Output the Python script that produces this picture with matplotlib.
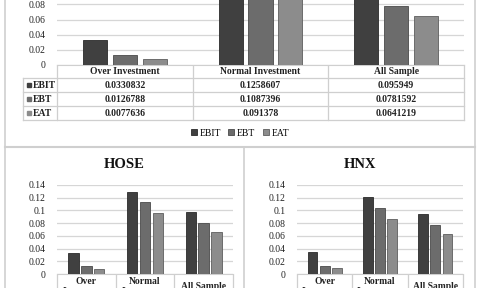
import numpy as np
import matplotlib
matplotlib.use("Agg")
import matplotlib.pyplot as plt
import matplotlib.transforms as mtransforms

plt.rcParams['font.family'] = ['Liberation Serif', 'DejaVu Serif']

series = ["EBIT", "EBT", "EAT"]
groups = ["Over Investment", "Normal Investment", "All Sample"]
short_groups = ["Over\nInvestment", "Normal\nInvestment", "All Sample"]

# all sample (values from the data table)
all_ebit = [0.0330832, 0.1258607, 0.095949]
all_ebt = [0.0126788, 0.1087396, 0.0781592]
all_eat = [0.0077636, 0.091378, 0.0641219]
all_text = [["0.0330832", "0.1258607", "0.095949"],
            ["0.0126788", "0.1087396", "0.0781592"],
            ["0.0077636", "0.091378", "0.0641219"]]

# exchanges
hose_ebit = [0.0325, 0.129, 0.097]
hose_ebt = [0.012, 0.1138, 0.080]
hose_eat = [0.0073, 0.0954, 0.0666]
hnx_ebit = [0.034, 0.1217, 0.0949]
hnx_ebt = [0.0131, 0.1044, 0.0766]
hnx_eat = [0.0089, 0.0865, 0.0624]

yticks = [0, 0.02, 0.04, 0.06, 0.08, 0.1, 0.12, 0.14]
ylabels = ["0", "0.02", "0.04", "0.06", "0.08", "0.1", "0.12", "0.14"]

colors = ["#404040", "#6c6c6c", "#8c8c8c"]
edges = ["#2a2a2a", "#4a4a4a", "#5e5e5e"]
grid_c = "#d6d6d6"
line_c = "#cfcfcf"

W, H = 480, 288
fig = plt.figure(figsize=(4.8, 2.88), dpi=100)

ov = fig.add_axes([0, 0, 1, 1])
ov.set_xlim(0, W)
ov.set_ylim(H, 0)
ov.axis("off")


def px_axes(l, t, r, b):
    return fig.add_axes([l / W, 1 - b / H, (r - l) / W, (b - t) / H])


def bar_chart(ax, vals, nticks=8):
    x = np.arange(3)
    bars = []
    for k, v in enumerate(vals):
        bars.append(ax.bar(x + (k - 1) * 0.22, v, 0.177, color=colors[k],
                           edgecolor=edges[k], linewidth=0.6, zorder=3))
    ax.set_xlim(-0.5, 2.5)
    ax.set_ylim(0, 0.14)
    ax.set_yticks(yticks[:nticks])
    ax.set_yticklabels(ylabels[:nticks])
    ax.tick_params(axis="y", length=0, pad=8, labelsize=6.9, colors="#222222")
    ax.grid(axis="y", color=grid_c, linewidth=0.9, zorder=0)
    for s in ["top", "right", "left"]:
        ax.spines[s].set_visible(False)
    ax.spines["bottom"].set_color(line_c)
    ax.set_xticks([])
    return bars


# top chart with data table (its upper part lies above the picture)
ax = px_axes(57, -41, 464, 65)
bars = bar_chart(ax, [all_ebit, all_ebt, all_eat], nticks=5)
for yv in yticks[5:]:
    ax.axhline(yv, color=grid_c, linewidth=0.9, zorder=0)
bt = mtransforms.blended_transform_factory(ax.transData, ov.transData)

row_y = [78, 92, 106, 120]
ov.plot([57, 57], [65, 120], color=line_c, lw=0.9)
ov.plot([23, 23], [78, 120], color=line_c, lw=0.9)
for xb in [193, 328, 464]:
    ov.plot([xb, xb], [65, 120], color=line_c, lw=0.9)
for yb in row_y:
    ov.plot([23, 464], [yb, yb], color=line_c, lw=0.9)
for i, g in enumerate(groups):
    ax.text(i, 71.5, g, transform=bt, ha="center", va="center",
            fontsize=6.9, fontweight="bold", color="#222222")
for k, s in enumerate(series):
    yc = (row_y[k] + row_y[k + 1]) / 2
    ov.plot(29, yc, marker="s", ms=3.2, color=colors[k], mec=colors[k])
    ov.text(33, yc, s, ha="left", va="center", fontsize=6.9,
            fontweight="bold", color="#222222")
    for i in range(3):
        ax.text(i, yc, all_text[k][i], transform=bt, ha="center",
                va="center", fontsize=6.9, fontweight="bold", color="#222222")

fig.legend([b[0] for b in bars], series, loc="center",
           bbox_to_anchor=(0.5, 1 - 133 / H), ncol=3, frameon=False,
           fontsize=6.9, handlelength=0.6, handleheight=0.6,
           handletextpad=0.3, columnspacing=0.8)

# panel borders
ov.plot([5, 5], [0, H], color=line_c, lw=1.2)
ov.plot([475, 475], [0, H], color=line_c, lw=1.2)
ov.plot([5, 475], [147, 147], color=line_c, lw=1.5)
ov.plot([244, 244], [147, H], color=line_c, lw=1.2)

# bottom charts
for (l, r, title, tc, vals) in [(57, 233, "HOSE", 124, [hose_ebit, hose_ebt, hose_eat]),
                                (297, 463, "HNX", 360, [hnx_ebit, hnx_ebt, hnx_eat])]:
    axb = px_axes(l, 185, r, 274)
    bar_chart(axb, vals)
    axb.vlines([-0.5, 0.5, 1.5, 2.5], 0, -0.2, color=line_c, lw=0.9,
               transform=axb.get_xaxis_transform(), clip_on=False)
    bt2 = mtransforms.blended_transform_factory(axb.transData, ov.transData)
    for i, g in enumerate(short_groups):
        axb.text(i, 286.5, g, transform=bt2, ha="center", va="center",
                 fontsize=6.9, fontweight="bold", color="#222222",
                 linespacing=1.25, clip_on=False)
    ov.text(tc, 164, title, ha="center", va="center", fontsize=10.5,
            fontweight="bold", color="#111111")

fig.savefig("out.png", dpi=100, facecolor="white")
